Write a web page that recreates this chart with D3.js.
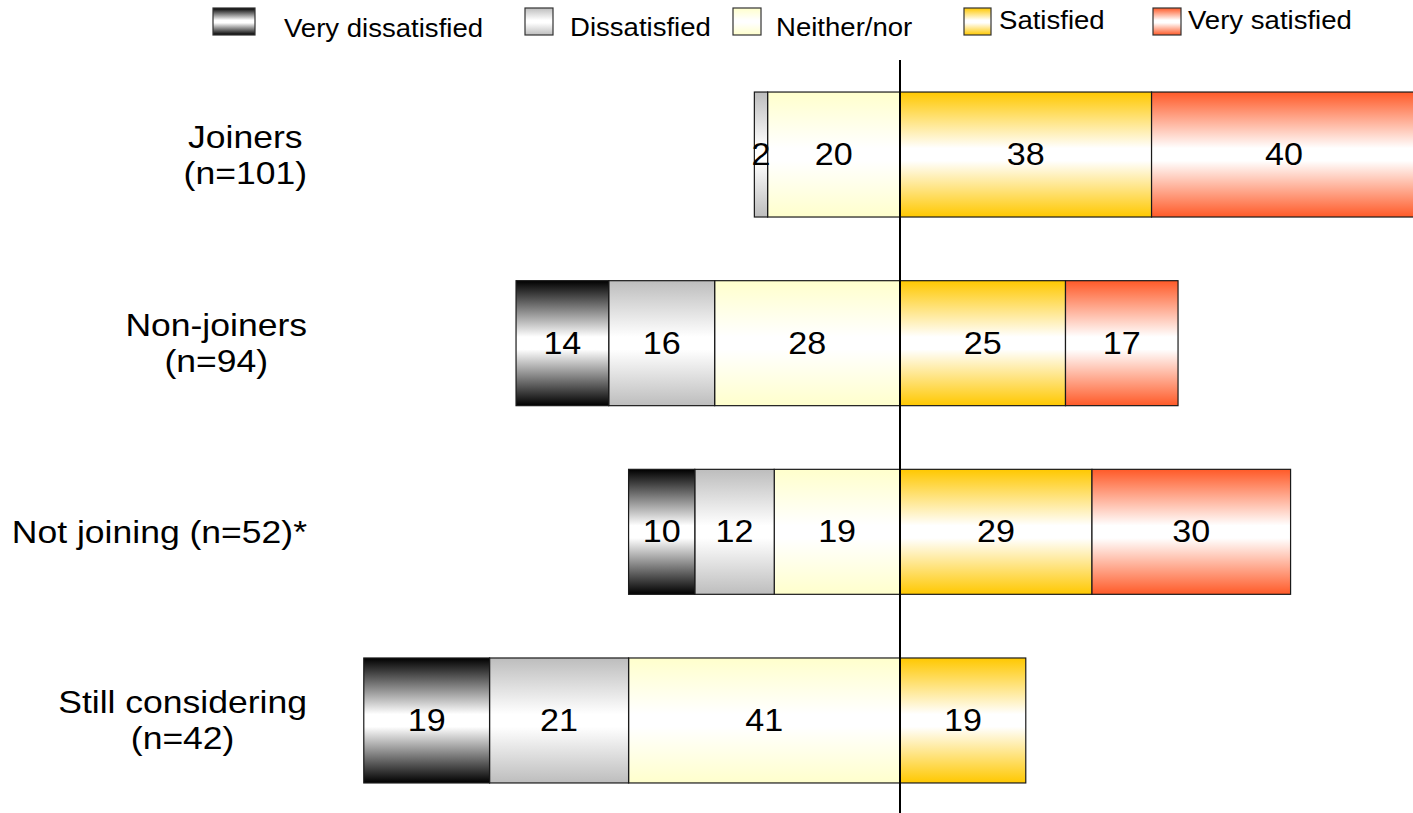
<!DOCTYPE html>
<html>
<head>
<meta charset="utf-8">
<script src="https://cdn.jsdelivr.net/npm/d3@7"></script>
<style>
  html, body { margin: 0; padding: 0; background: #fff; }
  svg { display: block; }
  text { font-family: "Liberation Sans", Arial, sans-serif; fill: #000; }
</style>
</head>
<body>
<svg id="chart" width="1413" height="813"></svg>
<script>
// Groups (each label may span several lines)
const categoryLines = [
  ["Joiners", "(n=101)"],
  ["Non-joiners", "(n=94)"],
  ["Not joining (n=52)*"],
  ["Still considering", "(n=42)"]
];

// Satisfaction levels, from most negative to most positive
const series = ["Very dissatisfied", "Dissatisfied", "Neither/nor", "Satisfied", "Very satisfied"];

// Percentages per group
const veryDissatisfied = [0, 14, 10, 19];
const dissatisfied     = [2, 16, 12, 21];
const neitherNor       = [20, 28, 19, 41];
const satisfied        = [38, 25, 29, 19];
const verySatisfied    = [40, 17, 30, 0];

const seriesValues = [veryDissatisfied, dissatisfied, neitherNor, satisfied, verySatisfied];

// Base colours of the top/bottom of each banded gradient
const seriesColors = ["#000000", "#bdbdbd", "#ffffcc", "#ffc800", "#ff5a28"];

const W = 1413, H = 813;
const svg = d3.select("#chart");

const x = d3.scaleLinear().domain([-100, 100]).range([238, 1562]);
const y = d3.scaleBand()
  .domain(d3.range(categoryLines.length))
  .range([60.2, 814.8])
  .paddingInner(0.3375)
  .paddingOuter(0.16875);

// Vertical gradients: colour at the edges, white through the middle
const defs = svg.append("defs");
series.forEach((s, i) => {
  const g = defs.append("linearGradient")
    .attr("id", "grad" + i)
    .attr("x1", 0).attr("y1", 0).attr("x2", 0).attr("y2", 1);
  g.append("stop").attr("offset", "0%").attr("stop-color", seriesColors[i]);
  g.append("stop").attr("offset", "45%").attr("stop-color", "#ffffff");
  g.append("stop").attr("offset", "55%").attr("stop-color", "#ffffff");
  g.append("stop").attr("offset", "100%").attr("stop-color", seriesColors[i]);
});

// Diverging stack: Neither/nor and the dissatisfied levels go left of zero
const segments = [];
categoryLines.forEach((c, ci) => {
  let neg = 0;
  [2, 1, 0].forEach(si => {
    const v = seriesValues[si][ci];
    segments.push({ ci, si, v, x0: neg - v, x1: neg });
    neg -= v;
  });
  let pos = 0;
  [3, 4].forEach(si => {
    const v = seriesValues[si][ci];
    segments.push({ ci, si, v, x0: pos, x1: pos + v });
    pos += v;
  });
});

const shown = segments.filter(d => d.v > 0);

const barG = svg.append("g");
barG.selectAll("rect")
  .data(shown)
  .join("rect")
  .attr("x", d => x(d.x0))
  .attr("y", d => y(d.ci))
  .attr("width", d => x(d.x1) - x(d.x0))
  .attr("height", y.bandwidth())
  .attr("fill", d => `url(#grad${d.si})`)
  .attr("stroke", "#1a1a1a")
  .attr("stroke-width", 1.2);

// Value labels, slightly widened like the rest of the type
const valueSize = 31, valueStretch = 1.1;
barG.selectAll("text.value")
  .data(shown)
  .join("text")
  .attr("class", "value")
  .attr("text-anchor", "middle")
  .attr("font-size", valueSize)
  .attr("transform", d => {
    const cx = (x(d.x0) + x(d.x1)) / 2;
    const cy = y(d.ci) + y.bandwidth() / 2 + valueSize * 0.34;
    return `translate(${cx},${cy}) scale(${valueStretch},1)`;
  })
  .text(d => d.v);

// Zero line
svg.append("line")
  .attr("x1", x(0)).attr("x2", x(0))
  .attr("y1", 60).attr("y2", H)
  .attr("stroke", "#000")
  .attr("stroke-width", 2);

// Category labels: lines centred within a block whose right edge is fixed
const catSize = 32, catStretch = 1.11, catRight = 307, lineGap = 36;
const catG = svg.append("g");
categoryLines.forEach((lines, ci) => {
  const cy = y(ci) + y.bandwidth() / 2 + 11;
  const texts = lines.map((t, li) => catG.append("text")
    .attr("font-size", catSize)
    .attr("text-anchor", "middle")
    .text(t));
  const widths = texts.map(t => t.node().getComputedTextLength() * catStretch);
  const blockW = d3.max(widths);
  const cx = catRight - blockW / 2;
  texts.forEach((t, li) => {
    const by = cy + (li - (lines.length - 1) / 2) * lineGap;
    t.attr("transform", `translate(${cx},${by}) scale(${catStretch},1)`);
  });
});

// Legend
const legendSwatch = [[213, 42], [525, 28], [733, 28], [964, 27], [1153, 28]];
const legendTextX = [284, 570, 776, 999, 1188];
const legendBaseline = [37, 36, 36, 29, 29];
const legSize = 26, legStretch = 1.06;
const legG = svg.append("g");
series.forEach((s, i) => {
  legG.append("rect")
    .attr("x", legendSwatch[i][0])
    .attr("y", 8)
    .attr("width", legendSwatch[i][1])
    .attr("height", 27)
    .attr("fill", `url(#grad${i})`)
    .attr("stroke", "#333")
    .attr("stroke-width", 1.2);
  legG.append("text")
    .attr("font-size", legSize)
    .attr("transform", `translate(${legendTextX[i]},${legendBaseline[i]}) scale(${legStretch},1)`)
    .text(s);
});
</script>
</body>
</html>
